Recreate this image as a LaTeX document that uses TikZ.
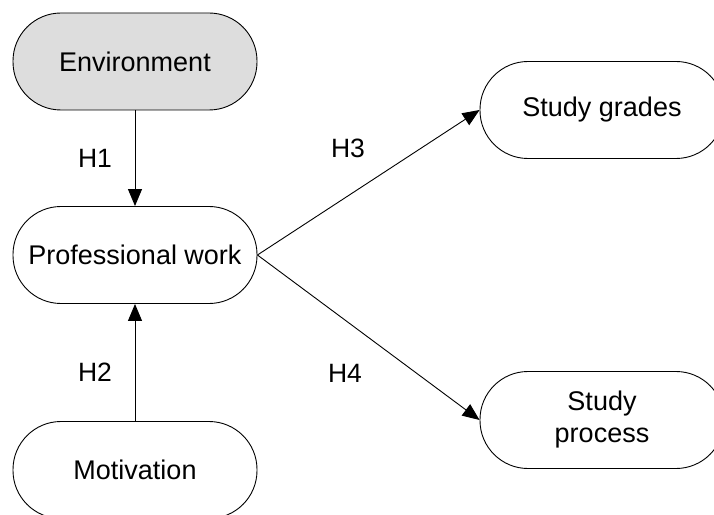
\documentclass[tikz,border=0pt]{standalone}
\usepackage{fontspec}
\setmainfont{Liberation Sans}
\usetikzlibrary{arrows.meta}
\definecolor{envgray}{RGB}{221,221,221}
\tikzset{
  pill/.style={draw=black, line width=0.9bp, rectangle, rounded corners=48bp,
    minimum width=244bp, minimum height=97bp, inner sep=0pt, align=center,
    font=\fontsize{27bp}{32bp}\selectfont},
  conn/.style={draw=black, line width=0.9bp, -{Triangle[length=17bp,width=14bp]}},
  hlabel/.style={font=\fontsize{26.5bp}{31bp}\selectfont, inner sep=0pt}
}
\begin{document}
\begin{tikzpicture}[x=1bp,y=-1bp]
\useasboundingbox (0,0) rectangle (714,515);
\clip (0,0) rectangle (714,515);
\fill[white] (0,0) rectangle (714,515);
\node[pill, fill=envgray] (env) at (135,61.5) {Environment};
\node[pill, fill=white] (pw) at (135,255) {Professional work};
\node[pill, fill=white] (mot) at (135,470) {Motivation};
\node[pill, fill=white] (sg) at (602,110) {Study grades};
\node[pill, fill=white] (sp) at (602,420) {Study\\process};
\draw[conn] (env.south) -- (pw.north);
\draw[conn] (mot.north) -- (pw.south);
\draw[conn] (pw.east) -- (sg.west);
\draw[conn] (pw.east) -- (sp.west);
\node[hlabel] (h1) at (95,158) {H1};
\node[hlabel] (h2) at (95,372) {H2};
\node[hlabel] (h3) at (348,148) {H3};
\node[hlabel] (h4) at (345,373) {H4};
\end{tikzpicture}
\end{document}
